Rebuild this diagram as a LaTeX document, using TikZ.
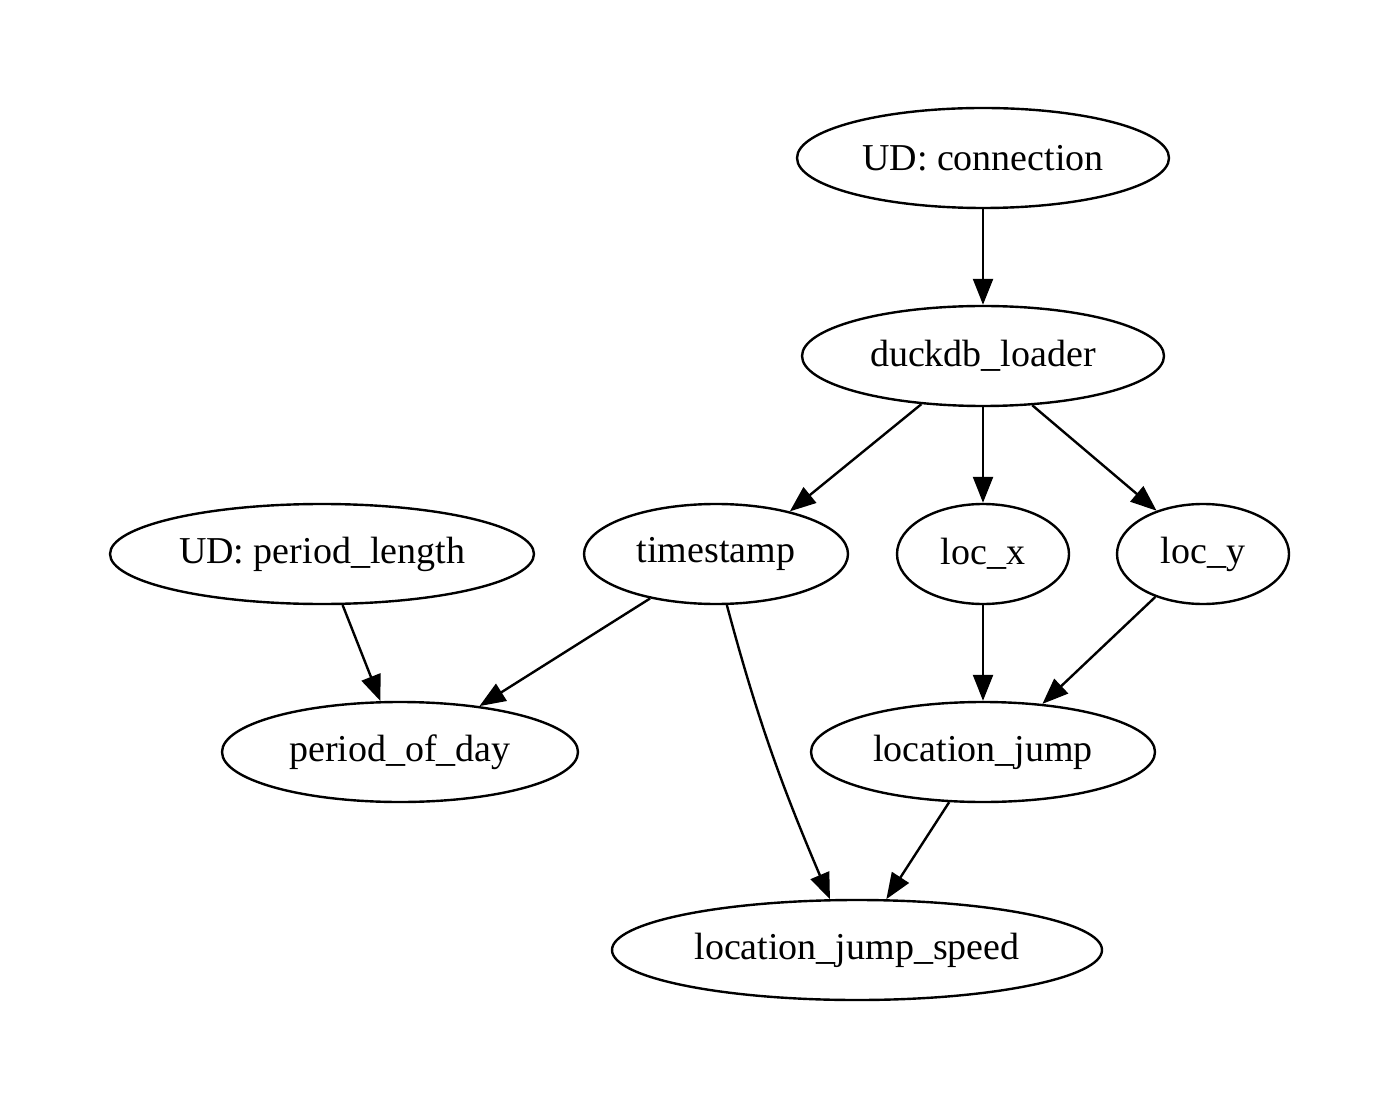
\documentclass[tikz,border=0pt]{standalone}
\usepackage{fontspec}
\setmainfont{Liberation Serif}
\usetikzlibrary{shapes.geometric,arrows.meta}
\begin{document}
\begin{tikzpicture}[x=0.5pt,y=-0.5pt,
  nd/.style={ellipse,draw,line width=1.2pt,inner sep=0pt,minimum height=50pt,
    font=\fontsize{19}{23}\selectfont},
  ed/.style={line width=1.2pt,-{Triangle[length=13pt,width=10pt]}}]
\useasboundingbox (0,0) rectangle (1400,1111);
\node[nd,minimum width=186pt] (conn) at (983,158) {UD: connection};
\node[nd,minimum width=181pt] (duck) at (983,356) {duckdb\_loader};
\node[nd,minimum width=212pt] (plen) at (322,554) {UD: period\_length};
\node[nd,minimum width=132pt] (ts) at (716,554) {timestamp};
\node[nd,minimum width=86pt] (lx) at (983,554) {loc\_x};
\node[nd,minimum width=86pt] (ly) at (1203,554) {loc\_y};
\node[nd,minimum width=178pt] (pod) at (400,752) {period\_of\_day};
\node[nd,minimum width=172pt] (lj) at (983,752) {location\_jump};
\node[nd,minimum width=245pt] (ljs) at (857,950) {location\_jump\_speed};
\draw[ed] (conn) -- (duck);
\draw[ed] (duck.218) -- (ts.30);
\draw[ed] (duck) -- (lx);
\draw[ed] (duck.315) -- (ly.137);
\draw[ed] (plen.292) -- (pod.111);
\draw[ed] (ts.214) -- (pod.30);
\draw[ed] (ts.282) to[out=-75,in=113] (ljs.118);
\draw[ed] (lx) -- (lj);
\draw[ed] (ly.222) -- (lj.39);
\draw[ed] (lj.236) -- (ljs.60);
\end{tikzpicture}
\end{document}
